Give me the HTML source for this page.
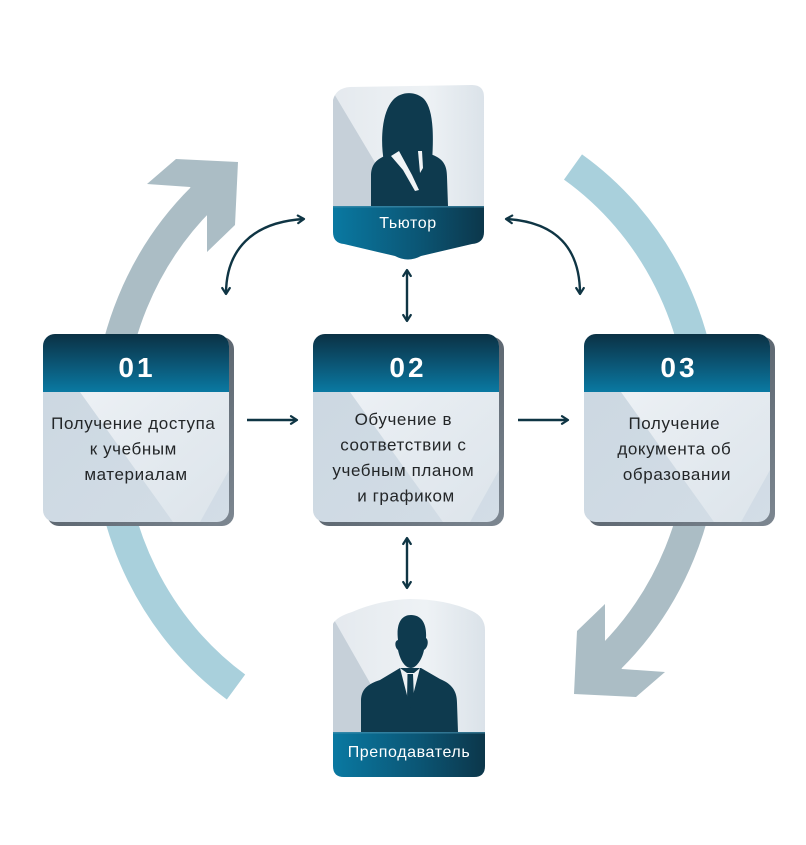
<!DOCTYPE html>
<html>
<head>
<meta charset="utf-8">
<style>
  html,body{margin:0;padding:0;background:#fff;}
  svg{display:block;}
  .num{font-family:"Liberation Sans",sans-serif;font-weight:bold;font-size:28px;fill:#fff;letter-spacing:3px;}
  .txt{font-family:"Liberation Sans","DejaVu Sans",sans-serif;font-size:17px;fill:#232628;letter-spacing:0.6px;}
  .lbl{font-family:"Liberation Sans","DejaVu Sans",sans-serif;font-size:16px;fill:#fff;letter-spacing:0.6px;}
</style>
</head>
<body>
<svg width="806" height="845" viewBox="0 0 806 845" xmlns="http://www.w3.org/2000/svg">
  <defs>
    <linearGradient id="hdr" x1="0" y1="0" x2="0" y2="1">
      <stop offset="0" stop-color="#0b3144"/>
      <stop offset="0.5" stop-color="#0b5473"/>
      <stop offset="1" stop-color="#0a79a2"/>
    </linearGradient>
    <linearGradient id="bodyg" x1="0" y1="0" x2="1" y2="1">
      <stop offset="0" stop-color="#cbd7e1"/>
      <stop offset="1" stop-color="#d3dde6"/>
    </linearGradient>
    <linearGradient id="hl" x1="0" y1="0" x2="1" y2="1">
      <stop offset="0" stop-color="#f2f5f8" stop-opacity="0.85"/>
      <stop offset="1" stop-color="#e4eaef" stop-opacity="0.6"/>
    </linearGradient>
    <linearGradient id="shd" x1="0" y1="0" x2="1" y2="1">
      <stop offset="0" stop-color="#3f4953"/>
      <stop offset="1" stop-color="#7d8791"/>
    </linearGradient>
    <linearGradient id="band" x1="0" y1="0" x2="1" y2="0">
      <stop offset="0" stop-color="#0a7aa3"/>
      <stop offset="0.55" stop-color="#0b5675"/>
      <stop offset="1" stop-color="#0c3447"/>
    </linearGradient>
    <linearGradient id="card" x1="0" y1="0" x2="1" y2="0">
      <stop offset="0" stop-color="#e4e9ee"/>
      <stop offset="0.6" stop-color="#eef2f5"/>
      <stop offset="1" stop-color="#d9e1e8"/>
    </linearGradient>
    <clipPath id="c1"><rect x="43" y="334" width="186" height="188" rx="12"/></clipPath>
    <clipPath id="c2"><rect x="313" y="334" width="186" height="188" rx="12"/></clipPath>
    <clipPath id="c3"><rect x="584" y="334" width="186" height="188" rx="12"/></clipPath>
    <clipPath id="ct"><path d="M333,100 Q336,88 350,87 L472,85 Q484,85 484,97 L484,232 Q484,243 472,244 L421,256 Q408,263 395,256 L344,244 Q333,243 333,232 Z"/></clipPath>
    <clipPath id="cp"><path d="M333,624 Q336,617 352,612 Q380,600 410,599 Q445,599 472,611 Q485,617 485,630 L485,766 Q485,777 474,777 L344,777 Q333,777 333,766 Z"/></clipPath>
    <marker id="ah" viewBox="0 0 10 10" refX="8.5" refY="5" markerWidth="10" markerHeight="10" markerUnits="userSpaceOnUse" orient="auto-start-reverse">
      <path d="M2.5,1.2 L8.5,5 L2.5,8.8" fill="none" stroke="#0f3544" stroke-width="2.2" stroke-linecap="round" stroke-linejoin="round"/>
    </marker>
  </defs>

  <!-- Big ring arcs -->
  <path d="M108,428 A298,315 0 0 0 236,687" fill="none" stroke="#a9d0dc" stroke-width="31"/>
  <path d="M573,167 A298,315 0 0 1 704,428" fill="none" stroke="#a9d0dc" stroke-width="31"/>
  <path d="M108,428 A298,315 0 0 1 202,198" fill="none" stroke="#abbdc5" stroke-width="31"/>
  <polygon points="147,184 176,159 238,162 235,225 207,252 207,207 190,187" fill="#abbdc5"/>
  <path d="M704,428 A298,315 0 0 1 610,658" fill="none" stroke="#abbdc5" stroke-width="31"/>
  <polygon points="665,672 636,697 574,694 577,631 605,604 605,649 622,669" fill="#abbdc5"/>

  <!-- Connectors -->
  <g fill="none" stroke="#0f3544" stroke-width="2.4" marker-start="url(#ah)" marker-end="url(#ah)">
    <path d="M226,294 C226,250 252,222 304,219"/>
    <path d="M506,219 C558,222 580,250 580,294"/>
    <path d="M407,270 L407,321"/>
    <path d="M407,538 L407,588"/>
  </g>
  <g fill="none" stroke="#0f3544" stroke-width="2.4" marker-end="url(#ah)">
    <path d="M247,420 L297,420"/>
    <path d="M518,420 L568,420"/>
  </g>

  <!-- Box 01 -->
  <rect x="47" y="337" width="187" height="189" rx="12" fill="url(#shd)"/>
  <g clip-path="url(#c1)">
    <rect x="43" y="334" width="186" height="188" fill="url(#bodyg)"/>
    <polygon points="80,392 229,392 229,470 200,522 173,522" fill="url(#hl)"/>
    <rect x="43" y="334" width="186" height="58" fill="url(#hdr)"/>
  </g>
  <text class="num" x="137" y="377" text-anchor="middle">01</text>
  <text class="txt" text-anchor="middle">
    <tspan x="136" y="429">Получение доступа</tspan>
    <tspan x="136" y="454.5">к учебным</tspan>
    <tspan x="136" y="480">материалам</tspan>
  </text>

  <!-- Box 02 -->
  <rect x="317" y="337" width="187" height="189" rx="12" fill="url(#shd)"/>
  <g clip-path="url(#c2)">
    <rect x="313" y="334" width="186" height="188" fill="url(#bodyg)"/>
    <polygon points="350,392 499,392 499,470 470,522 443,522" fill="url(#hl)"/>
    <rect x="313" y="334" width="186" height="58" fill="url(#hdr)"/>
  </g>
  <text class="num" x="408" y="377" text-anchor="middle">02</text>
  <text class="txt" text-anchor="middle">
    <tspan x="406" y="425">Обучение в</tspan>
    <tspan x="406" y="450.5">соответствии с</tspan>
    <tspan x="406" y="476">учебным планом</tspan>
    <tspan x="406" y="501.5">и графиком</tspan>
  </text>

  <!-- Box 03 -->
  <rect x="588" y="337" width="187" height="189" rx="12" fill="url(#shd)"/>
  <g clip-path="url(#c3)">
    <rect x="584" y="334" width="186" height="188" fill="url(#bodyg)"/>
    <polygon points="621,392 770,392 770,470 741,522 714,522" fill="url(#hl)"/>
    <rect x="584" y="334" width="186" height="58" fill="url(#hdr)"/>
  </g>
  <text class="num" x="679" y="377" text-anchor="middle">03</text>
  <text class="txt" text-anchor="middle">
    <tspan x="677" y="429">Получение</tspan>
    <tspan x="677" y="454.5">документа об</tspan>
    <tspan x="677" y="480">образовании</tspan>
  </text>

  <!-- Tutor card -->
  <g clip-path="url(#ct)">
    <rect x="330" y="80" width="160" height="190" fill="url(#card)"/>
    <polygon points="333,92 376,164 376,206 333,206" fill="#c6d0d9"/>
    <!-- woman silhouette -->
    <path d="M384,162 C380,140 382,112 393,100 C401,91 416,91 424,99 C433,109 434,132 432,162 Z" fill="#0e3a4e"/>
    <path d="M371,206 L371,176 C371,163 378,158 390,154 L400,150 L418,150 L430,154 C443,158 447,165 447,177 L448,206 Z" fill="#0e3a4e"/>
    <path d="M391,156 L399,151 L412,175 L419,190 L415,191 L403,170 Z" fill="#f1f4f6"/>
    <path d="M418,151 L422,151 L423,168 L420,173 Z" fill="#f1f4f6"/>
    <rect x="330" y="206" width="160" height="70" fill="url(#band)"/>
    <rect x="330" y="206" width="160" height="1.5" fill="#4a93b0" opacity="0.6"/>
  </g>
  <text class="lbl" x="408" y="228" text-anchor="middle">Тьютор</text>

  <!-- Teacher card -->
  <g clip-path="url(#cp)">
    <rect x="330" y="595" width="160" height="190" fill="url(#card)"/>
    <polygon points="333,618 374,690 374,732 333,732" fill="#c6d0d9"/>
    <!-- man silhouette -->
    <path d="M398,640 C396,624 401,615 411,615 C421,615 427,623 426,638 C429,640 428,648 424,650 C422,660 416,668 411,668 C405,668 400,660 398,650 C395,648 394,641 398,640 Z" fill="#0e3a4e"/>
    <path d="M361,732 L361,701 C361,689 368,684 380,680 L400,668 L421,668 L440,679 C452,684 457,691 457,703 L458,732 Z" fill="#0e3a4e"/>
    <path d="M400,668 L409,703 L411,703 L420,668 L414,673 L407,673 Z" fill="#eef2f5"/>
    <path d="M407.5,674 L413,674 L414,700 L410.5,708 L407,700 Z" fill="#0e3a4e"/>
    <rect x="330" y="732" width="160" height="50" fill="url(#band)"/>
    <rect x="330" y="732" width="160" height="1.5" fill="#4a93b0" opacity="0.6"/>
  </g>
  <text class="lbl" x="409" y="757" text-anchor="middle">Преподаватель</text>
</svg>
</body>
</html>
